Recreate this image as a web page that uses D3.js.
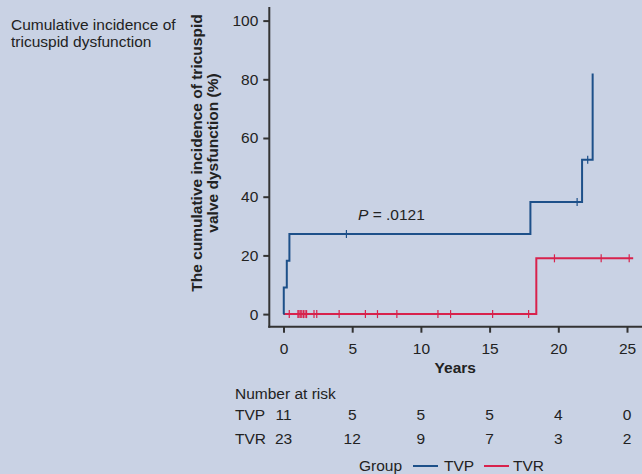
<!DOCTYPE html>
<meta charset="utf-8">
<style type="text/css">
body {
    margin: 0;
    background: #c9d2e4;
}
svg {
    font-family: "Liberation Sans", Arial, Helvetica, sans-serif;
    display: block;
}
.tick text {
    font-size: 15.5px;
    fill: #222;
}
</style>
<body>
    <script src="https://d3js.org/d3.v7.min.js"></script>

    <script>
        // step points (time in years, cumulative incidence %)
        let tvpTimes = [0, 0.02, 0.24, 0.43, 17.97, 21.73, 22.5];
        let tvpValues = [0, 9.1, 18.2, 27.3, 38.2, 52.6, 82.0];
        let tvpCensored = [4.58, 21.37, 22.14];

        let tvrTimes = [0, 18.4, 25.45];
        let tvrValues = [0, 19.0, 19.0];
        let tvrCensored = [0.42, 1.05, 1.12, 1.22, 1.33, 1.45, 1.57, 1.68, 2.22, 2.42, 4.05,
                           5.96, 6.84, 8.25, 11.24, 12.16, 15.22, 17.84, 19.72, 23.12, 25.16];

        let xTicks = [0, 5, 10, 15, 20, 25];
        let yTicks = [0, 20, 40, 60, 80, 100];
        let riskTVP = [11, 5, 5, 5, 4, 0];
        let riskTVR = [23, 12, 9, 7, 3, 2];

        let blue = "#1d5089", red = "#d8224c";
        let fs = "15.5px";

        let svg = d3.select("body")
            .append("svg")
            .attr("width", 642)
            .attr("height", 474);

        let x = d3.scaleLinear().domain([0, 25]).range([283.5, 627]);
        let y = d3.scaleLinear().domain([0, 100]).range([314.1, 20.6]);

        // left title
        svg.append("text")
            .attr("x", 11).attr("y", 30)
            .style("font-size", fs).attr("fill", "#222")
            .selectAll("tspan")
            .data(["Cumulative incidence of", "tricuspid dysfunction"])
            .join("tspan")
                .attr("x", 11)
                .attr("dy", (d, i) => i ? 16.5 : 0)
                .text(d => d);

        // axes
        let yAxis = svg.append("g")
            .attr("transform", "translate(269.3,0)")
            .call(d3.axisLeft(y).tickValues(yTicks).tickSize(6).tickPadding(5).tickSizeOuter(0));
        yAxis.select(".domain").remove();

        let xAxis = svg.append("g")
            .attr("transform", "translate(0,326.7)")
            .call(d3.axisBottom(x).tickValues(xTicks).tickSize(6).tickPadding(10).tickSizeOuter(0));
        xAxis.select(".domain").remove();

        svg.selectAll(".tick line").attr("stroke", "#333").attr("stroke-width", 2);

        svg.append("line")
            .attr("x1", 269.3).attr("x2", 269.3).attr("y1", 7).attr("y2", 327.7)
            .attr("stroke", "#333").attr("stroke-width", 2);
        svg.append("line")
            .attr("x1", 268.3).attr("x2", 642).attr("y1", 326.7).attr("y2", 326.7)
            .attr("stroke", "#333").attr("stroke-width", 2);

        // axis titles
        svg.append("text")
            .attr("transform", "translate(205,153) rotate(-90)")
            .attr("text-anchor", "middle")
            .style("font-size", fs).style("font-weight", "bold").attr("fill", "#222")
            .selectAll("tspan")
            .data(["The cumulative incidence of tricuspid", "valve dysfunction (%)"])
            .join("tspan")
                .attr("x", 0)
                .attr("y", (d, i) => i ? 13 : -3)
                .text(d => d);

        svg.append("text")
            .attr("x", x(12.5)).attr("y", 373)
            .attr("text-anchor", "middle")
            .style("font-size", fs).style("font-weight", "bold").attr("fill", "#222")
            .text("Years");

        // curves
        let line = d3.line()
            .x(d => x(d[0]))
            .y(d => y(d[1]))
            .curve(d3.curveStepAfter);

        function stepAt(times, values, t) {
            let i = d3.bisectRight(times, t) - 1;
            return values[Math.max(0, i)];
        }

        let groups = [
            {times: tvpTimes, values: tvpValues, censored: tvpCensored, color: blue},
            {times: tvrTimes, values: tvrValues, censored: tvrCensored, color: red}
        ];

        groups.slice().reverse().forEach(g => {
            svg.append("path")
                .datum(d3.zip(g.times, g.values))
                .attr("d", line)
                .attr("fill", "none")
                .attr("stroke", g.color)
                .attr("stroke-width", 2);

            svg.append("g").selectAll("line")
                .data(g.censored)
                .join("line")
                    .attr("x1", d => x(d)).attr("x2", d => x(d))
                    .attr("y1", d => y(stepAt(g.times, g.values, d)) - 4)
                    .attr("y2", d => y(stepAt(g.times, g.values, d)) + 4)
                    .attr("stroke", g.color)
                    .attr("stroke-width", 1.2);
        });

        // p value
        let pText = svg.append("text")
            .attr("x", 358).attr("y", 220)
            .style("font-size", fs).attr("fill", "#222");
        pText.append("tspan").style("font-style", "italic").text("P");
        pText.append("tspan").text(" = .0121");

        // number at risk
        svg.append("text")
            .attr("x", 235).attr("y", 399)
            .style("font-size", fs).attr("fill", "#222")
            .text("Number at risk");

        [["TVP", riskTVP, 420], ["TVR", riskTVR, 444]].forEach(r => {
            svg.append("text")
                .attr("x", 235).attr("y", r[2])
                .style("font-size", fs).attr("fill", "#222")
                .text(r[0]);
            svg.append("g").selectAll("text")
                .data(r[1])
                .join("text")
                    .attr("x", (d, i) => x(xTicks[i]))
                    .attr("y", r[2])
                    .attr("text-anchor", "middle")
                    .style("font-size", fs).attr("fill", "#222")
                    .text(d => d);
        });

        // legend
        let legend = svg.append("g").style("font-size", fs).attr("fill", "#222");
        legend.append("text").attr("x", 359).attr("y", 471).text("Group");
        [["TVP", blue, 413, 444], ["TVR", red, 484, 513]].forEach(l => {
            legend.append("line")
                .attr("x1", l[2]).attr("x2", l[2] + 25)
                .attr("y1", 466).attr("y2", 466)
                .attr("stroke", l[1]).attr("stroke-width", 2);
            legend.append("text").attr("x", l[3]).attr("y", 471).text(l[0]);
        });
    </script>
</body>
</html>
